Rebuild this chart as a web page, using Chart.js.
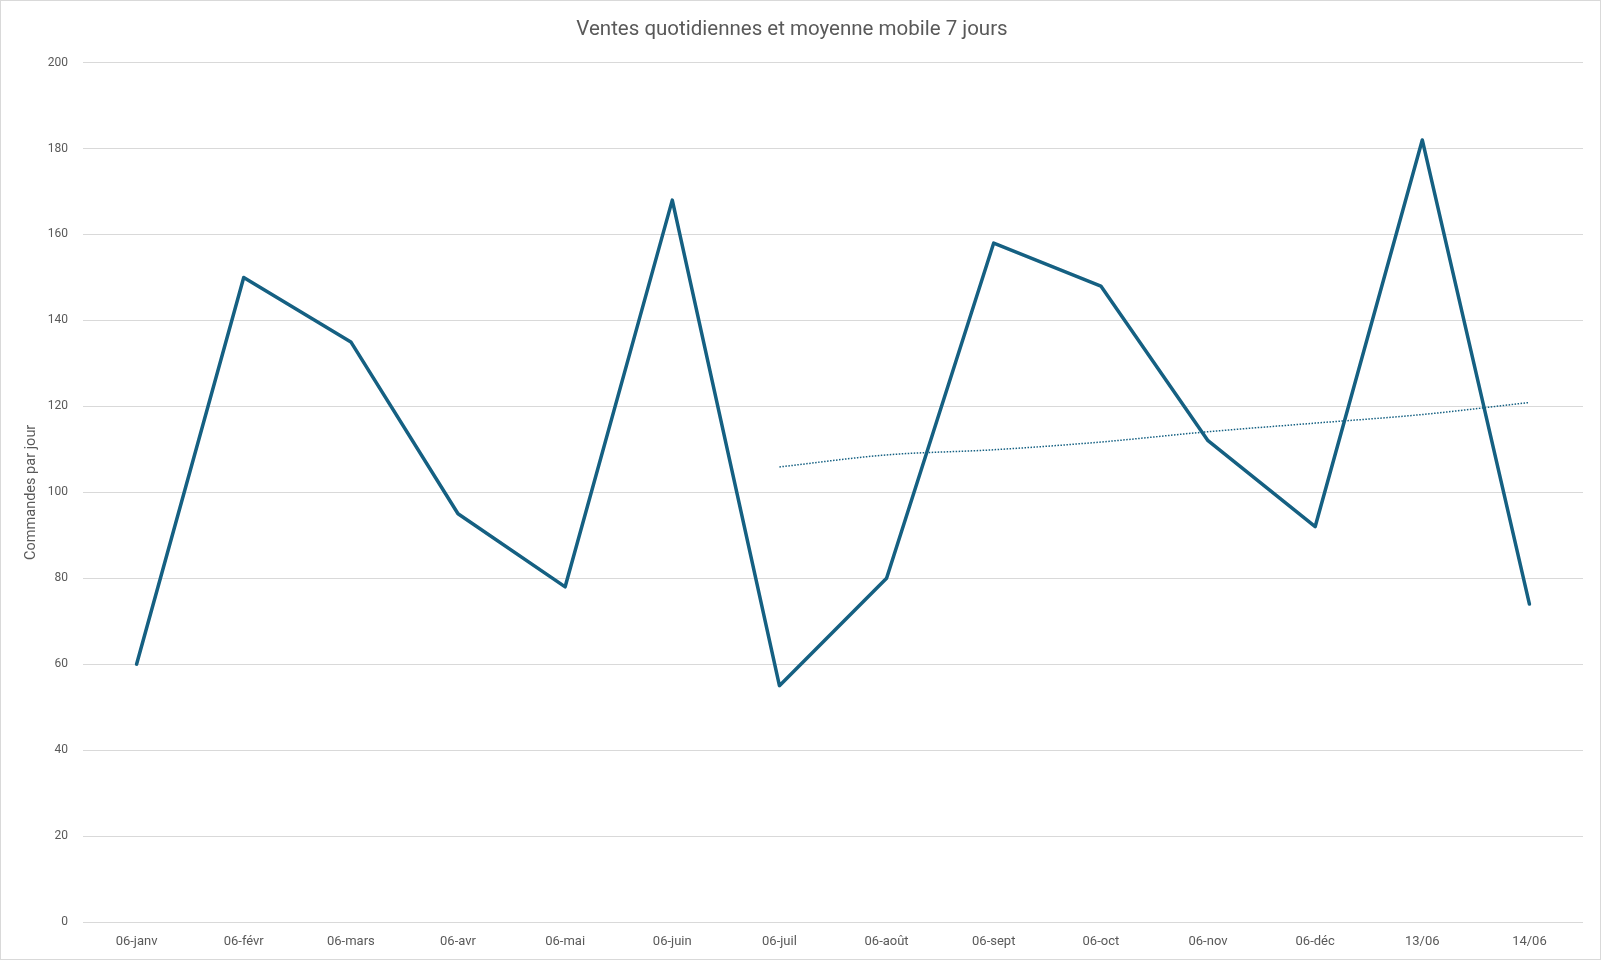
<!doctype html>
<html>
<head>
<meta charset="utf-8"/>
<title>Ventes quotidiennes</title>
<script src="https://cdn.jsdelivr.net/npm/chart.js@4.4.1/dist/chart.umd.min.js"></script>
<style>
  body { margin: 0; background: #fff; }
  #wrap { width: 1601px; height: 960px; box-sizing: border-box; border: 1px solid #d9d9d9; }
  canvas { display: block; }
</style>
</head>
<body>
<div id="wrap"><canvas id="chart" width="1599" height="958"></canvas></div>
<script>
const labels = ['06-janv', '06-févr', '06-mars', '06-avr', '06-mai', '06-juin', '06-juil',
                '06-août', '06-sept', '06-oct', '06-nov', '06-déc', '13/06', '14/06'];
const ventes = [60, 150, 135, 95, 78, 168, 55, 80, 158, 148, 112, 92, 182, 74];
const moyenne7 = [null, null, null, null, null, null, 105.9, 108.7, 109.9, 111.7, 114.1, 116.1, 118.1, 120.9];
const yTicks = [0, 20, 40, 60, 80, 100, 120, 140, 160, 180, 200];

const textColor = '#595959';
const lineColor = '#156082';
const fontFamily = 'Roboto, "Liberation Sans", sans-serif';

new Chart(document.getElementById('chart'), {
  type: 'line',
  data: {
    labels: labels,
    datasets: [
      {
        label: 'Ventes',
        data: ventes,
        borderColor: lineColor,
        borderWidth: 3.5,
        borderJoinStyle: 'round',
        borderCapStyle: 'round',
        pointRadius: 0,
        tension: 0
      },
      {
        label: 'Moyenne mobile 7 jours',
        data: moyenne7,
        borderColor: lineColor,
        borderWidth: 1.5,
        borderDash: [1.5, 1.5],
        pointRadius: 0,
        tension: 0.4,
        cubicInterpolationMode: 'monotone'
      }
    ]
  },
  options: {
    responsive: false,
    animation: false,
    layout: { padding: { left: 0, right: 17, top: 0, bottom: 0 } },
    plugins: {
      legend: { display: false },
      tooltip: { enabled: false },
      title: {
        display: true,
        text: 'Ventes quotidiennes et moyenne mobile 7 jours',
        color: textColor,
        font: { family: fontFamily, size: 20.5, weight: 'normal' },
        padding: { top: 17, bottom: 20 }
      }
    },
    scales: {
      x: {
        offset: true,
        grid: { display: false },
        border: { display: false },
        ticks: {
          color: textColor,
          font: { family: fontFamily, size: 13 },
          padding: 4,
          maxRotation: 0,
          autoSkip: false
        },
        afterFit: function (scale) { scale.height = 37; }
      },
      y: {
        min: 0,
        max: 200,
        afterBuildTicks: function (scale) {
          scale.ticks = yTicks.map(function (v) { return { value: v }; });
        },
        grid: { color: '#d9d9d9', lineWidth: 1, drawTicks: false },
        border: { display: false },
        ticks: {
          color: textColor,
          font: { family: fontFamily, size: 12 },
          padding: 15
        },
        title: {
          display: true,
          text: 'Commandes par jour',
          color: textColor,
          font: { family: fontFamily, size: 14.5 },
          padding: { top: 22, bottom: 0 }
        },
        afterFit: function (scale) { scale.width = 82; }
      }
    }
  }
});
</script>
</body>
</html>
